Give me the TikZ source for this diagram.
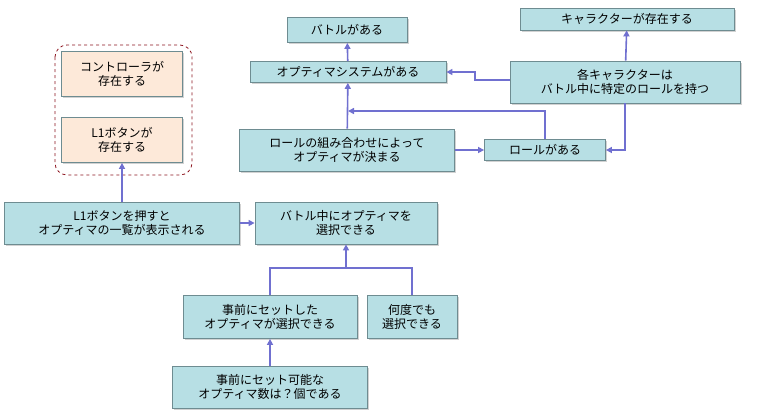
\documentclass[tikz,border=0pt]{standalone}
\usepackage{fontspec}
\setmainfont{Noto Sans CJK JP}
\usetikzlibrary{shadows,arrows.meta}
\definecolor{boxfill}{RGB}{183,223,228}
\definecolor{boxdraw}{RGB}{110,140,145}
\definecolor{orfill}{RGB}{253,233,217}
\definecolor{linkc}{RGB}{112,112,208}
\definecolor{dashc}{RGB}{140,20,30}
\begin{document}
\begin{tikzpicture}[
    x=1pt, y=-1pt,
    every node/.style={font=\fontsize{12}{14.5}\selectfont, align=center, inner sep=0pt},
    punkt/.style={rectangle, fill=boxfill, draw=boxdraw, thick,
        drop shadow={shadow xshift=1.5pt, shadow yshift=-1.5pt, fill=black!35}},
    orpunkt/.style={punkt, fill=orfill},
    pil/.style={draw=linkc, line width=1.6pt, -{Triangle[length=6pt,width=6pt]}},
    ]
\useasboundingbox (0,0) rectangle (758,416);
% upper part
\node[punkt, minimum width=120pt, minimum height=25pt] (battle) at (347,30) {バトルがある};
\node[punkt, minimum width=196pt, minimum height=21pt] (optsys) at (348,72) {オプティマシステムがある};
\node[punkt, minimum width=214pt, minimum height=22pt] (chara) at (627,19) {キャラクターが存在する};
\node[punkt, minimum width=230pt, minimum height=42pt] (eachchara) at (625,82) {各キャラクターは\\バトル中に特定のロールを持つ};
\node[punkt, minimum width=215pt, minimum height=42pt] (combo) at (347,150) {ロールの組み合わせによって\\オプティマが決まる};
\node[punkt, minimum width=121pt, minimum height=21pt] (role) at (545,150) {ロールがある};
% middle part
\node[punkt, minimum width=182pt, minimum height=42pt] (select) at (346,223) {バトル中にオプティマを\\選択できる};
\node[punkt, minimum width=235pt, minimum height=42pt] (l1press) at (122,223) {L1ボタンを押すと\\オプティマの一覧が表示される};
\node[orpunkt, minimum width=121pt, minimum height=45pt] (ctrl) at (122,74) {コントローラが\\存在する};
\node[orpunkt, minimum width=121pt, minimum height=45pt] (l1btn) at (122,140) {L1ボタンが\\存在する};
\draw[dashc, thick, dashed, rounded corners=12pt] (55,45) rectangle (192,175);
% lower part
\node[punkt, minimum width=174pt, minimum height=43pt] (preset) at (270,317) {事前にセットした\\オプティマが選択できる};
\node[punkt, minimum width=90pt, minimum height=43pt] (anytime) at (412,317) {何度でも\\選択できる};
\node[punkt, minimum width=195pt, minimum height=42pt] (presetnum) at (270,387) {事前にセット可能な\\オプティマ数は？個である};
% links
\draw[pil] (optsys) -- (battle);
\draw[pil] (eachchara) -- (chara);
\draw[pil] (eachchara.west |- 0,80) -- (475,80) |- (optsys.east);
\draw[pil] (eachchara.south) |- (role.east);
\draw[pil] (combo) -- (role);
\draw[pil] (combo) -- (optsys);
\draw[pil] (role.north) |- (348,111);
\draw[pil] (l1press) -- (select);
\draw[pil] (l1press) -- (l1btn);
\draw[pil] (presetnum) -- (preset);
\draw[pil] (preset.north) |- (346,268) -- (select.south);
\draw[pil, -] (anytime.north) |- (346,268);
\end{tikzpicture}
\end{document}
